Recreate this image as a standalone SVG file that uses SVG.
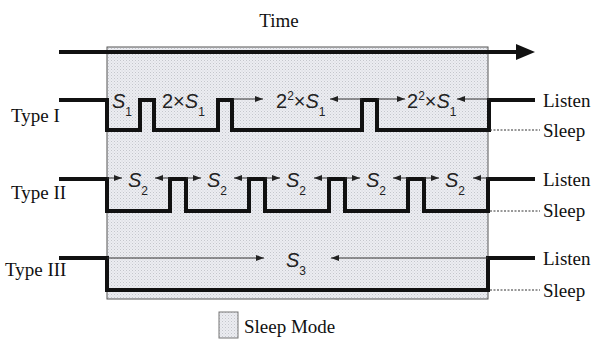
<svg xmlns="http://www.w3.org/2000/svg" width="594" height="341" viewBox="0 0 594 341">
  <defs>
    <pattern id="dots" width="3" height="3" patternUnits="userSpaceOnUse">
      <rect width="3" height="3" fill="#ecedf1"/>
      <rect x="0" y="0" width="1" height="1" fill="#c4c6cc"/>
      <rect x="1.5" y="1.5" width="1" height="1" fill="#d2d4d9"/>
    </pattern>
    <marker id="ah" viewBox="0 0 8 6" refX="8" refY="3" markerWidth="8" markerHeight="6" markerUnits="userSpaceOnUse" orient="auto">
      <path d="M0,0 L8,3 L0,6 Z" fill="#222"/>
    </marker>
  </defs>
  <style>
    .lbl { font-family: "Liberation Serif", "Times New Roman", serif; font-size: 19px; fill: #111; }
    .sym { font-family: "Liberation Sans", Arial, sans-serif; font-size: 20px; fill: #222; }
    .it { font-style: italic; }
    .sub { font-size: 12px; }
    .sig { fill: none; stroke: #111; stroke-width: 4; stroke-linejoin: miter; }
    .dur { fill: none; stroke: #333; stroke-width: 1; marker-end: url(#ah); }
    .dot { fill: none; stroke: #333; stroke-width: 1; stroke-dasharray: 2 1.5; }
  </style>

  <!-- sleep-mode window -->
  <rect id="sleep-window" x="107" y="47" width="381" height="252" fill="url(#dots)" stroke="#555" stroke-width="1"/>

  <!-- time axis -->
  <g id="time-axis">
    <line x1="59" y1="52" x2="519" y2="52" stroke="#111" stroke-width="4"/>
    <polygon points="516,44 535,52 516,60" fill="#111"/>
    <text class="lbl" x="279" y="27" text-anchor="middle">Time</text>
  </g>

  <!-- Type I -->
  <g id="type1">
    <text class="lbl" x="11" y="122">Type I</text>
    <path class="sig" d="M59,100 H107 V130 H140 V100 H154 V130 H218 V100 H232 V130 H362 V100 H377 V130 H489 V100 H535"/>
    <text class="sym" x="112" y="108"><tspan class="it">S</tspan><tspan class="sub" dy="8">1</tspan></text>
    <text class="sym" x="162" y="108">2×<tspan class="it">S</tspan><tspan class="sub" dy="8">1</tspan></text>
    <text class="sym" x="276" y="108">2<tspan class="sub" dy="-8">2</tspan><tspan dy="8">×</tspan><tspan class="it">S</tspan><tspan class="sub" dy="8">1</tspan></text>
    <text class="sym" x="407" y="108">2<tspan class="sub" dy="-8">2</tspan><tspan dy="8">×</tspan><tspan class="it">S</tspan><tspan class="sub" dy="8">1</tspan></text>
    <text class="lbl" x="543" y="107">Listen</text>
    <text class="lbl" x="543" y="137">Sleep</text>
  </g>

  <!-- Type II -->
  <g id="type2">
    <text class="lbl" x="11" y="199">Type II</text>
    <path class="sig" d="M59,179 H107 V211 H170 V179 H186 V211 H249 V179 H265 V211 H329 V179 H345 V211 H408 V179 H424 V211 H488 V179 H535"/>
    <text class="sym" x="128" y="187"><tspan class="it">S</tspan><tspan class="sub" dy="8">2</tspan></text>
    <text class="sym" x="207" y="187"><tspan class="it">S</tspan><tspan class="sub" dy="8">2</tspan></text>
    <text class="sym" x="286" y="187"><tspan class="it">S</tspan><tspan class="sub" dy="8">2</tspan></text>
    <text class="sym" x="366" y="187"><tspan class="it">S</tspan><tspan class="sub" dy="8">2</tspan></text>
    <text class="sym" x="445" y="187"><tspan class="it">S</tspan><tspan class="sub" dy="8">2</tspan></text>
    <text class="lbl" x="543" y="186">Listen</text>
    <text class="lbl" x="543" y="217">Sleep</text>
  </g>

  <!-- Type III -->
  <g id="type3">
    <text class="lbl" x="5" y="276">Type III</text>
    <path class="sig" d="M59,258 H107 V290 H488 V258 H535"/>
    <text class="sym" x="286" y="267"><tspan class="it">S</tspan><tspan class="sub" dy="8">3</tspan></text>
    <text class="lbl" x="543" y="265">Listen</text>
    <text class="lbl" x="543" y="297">Sleep</text>
  </g>

  <!-- duration arrows and sleep-level guides -->
  <g id="connectors">
    <line class="dur" x1="233" y1="99" x2="263" y2="99"/>
    <line class="dur" x1="362" y1="99" x2="330" y2="99"/>
    <line class="dur" x1="377" y1="99" x2="405" y2="99"/>
    <line class="dur" x1="489" y1="99" x2="457" y2="99"/>

    <line class="dur" x1="107" y1="178" x2="122" y2="178"/>
    <line class="dur" x1="170" y1="178" x2="155" y2="178"/>
    <line class="dur" x1="186" y1="178" x2="201" y2="178"/>
    <line class="dur" x1="249" y1="178" x2="234" y2="178"/>
    <line class="dur" x1="265" y1="178" x2="280" y2="178"/>
    <line class="dur" x1="329" y1="178" x2="314" y2="178"/>
    <line class="dur" x1="345" y1="178" x2="360" y2="178"/>
    <line class="dur" x1="408" y1="178" x2="393" y2="178"/>
    <line class="dur" x1="424" y1="178" x2="439" y2="178"/>
    <line class="dur" x1="488" y1="178" x2="473" y2="178"/>

    <line class="dur" x1="107" y1="258" x2="264" y2="258"/>
    <line class="dur" x1="488" y1="258" x2="331" y2="258"/>

    <line class="dot" x1="490" y1="130" x2="540" y2="130"/>
    <line class="dot" x1="490" y1="211" x2="540" y2="211"/>
    <line class="dot" x1="490" y1="290" x2="540" y2="290"/>
  </g>

  <!-- legend -->
  <g id="legend">
    <rect x="219" y="312" width="19" height="26" fill="url(#dots)" stroke="#777" stroke-width="1"/>
    <text class="lbl" x="244" y="333">Sleep Mode</text>
  </g>
</svg>
